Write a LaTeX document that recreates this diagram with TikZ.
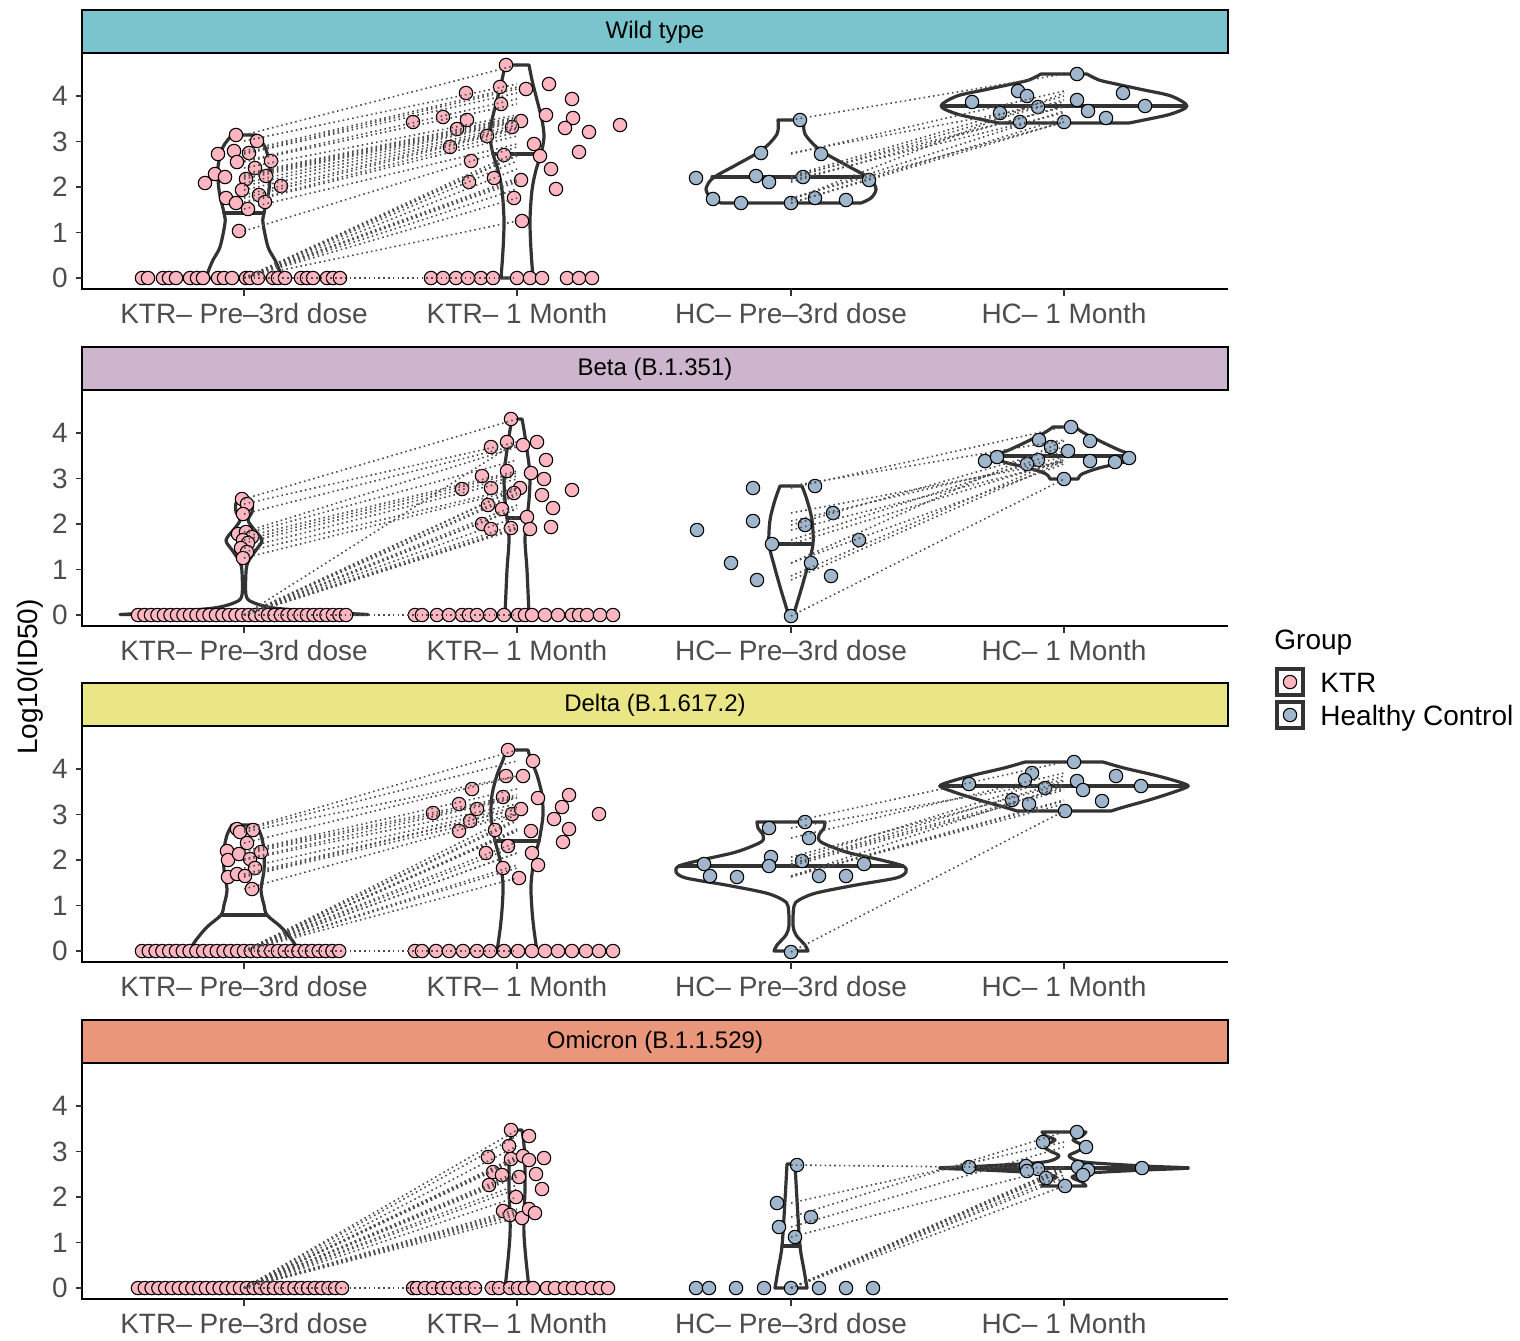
\documentclass[tikz,border=0pt]{standalone}
\usepackage{fontspec}
\setmainfont{Liberation Sans}
\definecolor{wt}{HTML}{7AC5CD}
\definecolor{betac}{HTML}{CDB5CD}
\definecolor{deltac}{HTML}{EAE686}
\definecolor{omic}{HTML}{E9967A}
\definecolor{ktr}{HTML}{FFB6C1}
\definecolor{hcc}{HTML}{9FB6CD}
\definecolor{g20}{HTML}{333333}
\definecolor{g30}{HTML}{4D4D4D}
\newcommand\panelframe[3]{%
 \begin{scope}[shift={(0,#1)}]
  \draw[line width=1.2pt,fill=#2] (82,10) rectangle (1228,53);
  \node[font=\fontsize{12}{14}\selectfont] at (655,32) {#3};
  \draw[line width=1pt] (82,53) -- (82,289) -- (1228,289);
  \foreach \v in {0,...,4} {
   \draw[g20,line width=0.9pt] (76,{278-45.5*\v}) -- (82,{278-45.5*\v});
   \node[ticklab,anchor=east] at (68,{278-45.5*\v}) {\v};
  }
  \foreach \xx/\lab in {244/{KTR– Pre–3rd dose},517/{KTR– 1 Month},791/{HC– Pre–3rd dose},1064/{HC– 1 Month}} {
   \draw[g20,line width=0.9pt] (\xx,289) -- (\xx,296);
   \node[ticklab,anchor=base] at (\xx,323) {\lab};
  }
 \end{scope}}
\newcommand\vio[4]{%
 \draw[vl,shift={(#1,0)}] (0,#2) -- plot[smooth,tension=0.5] coordinates {#4} -- (0,#3);
 \draw[vl,shift={(#1,0)},xscale=-1] (0,#2) -- plot[smooth,tension=0.5] coordinates {#4} -- (0,#3);}
\newcommand\med[3]{\draw[vl] (#1-#3,#2) -- (#1+#3,#2);}
\newcommand\kpts[1]{\foreach \a/\b in {#1} \filldraw[kpt] (\a,\b) circle[radius=3.35pt];}
\newcommand\hpts[1]{\foreach \a/\b in {#1} \filldraw[hpt] (\a,\b) circle[radius=3.35pt];}
\newcommand\kzero[2]{\foreach \a in {#1} \filldraw[kpt] (\a,#2) circle[radius=3.35pt];}
\newcommand\hzero[2]{\foreach \a in {#1} \filldraw[hpt] (\a,#2) circle[radius=3.35pt];}
\newcommand\kl[1]{\foreach \a/\b in {#1} \draw[dl] (244,\a) -- (517,\b);}
\newcommand\hl[1]{\foreach \a/\b in {#1} \draw[dl] (791,\a) -- (1064,\b);}
\begin{document}
\begin{tikzpicture}[x=0.5pt,y=-0.5pt,
 vl/.style={draw=g20,line width=1.6pt,line join=round,line cap=round},
 dl/.style={draw=g30,line width=0.8pt,dash pattern=on 0.8pt off 1.6pt},
 kpt/.style={fill=ktr,draw=black,line width=0.55pt},
 hpt/.style={fill=hcc,draw=black,line width=0.55pt},
 ticklab/.style={font=\fontsize{14}{16}\selectfont,text=g30,inner sep=0pt}]
\useasboundingbox (0,0) rectangle (1520,1340);
\fill[white] (0,0) rectangle (1520,1340);

% ---------------- Panel 1: Wild type
\panelframe{0}{wt}{Wild type}
\vio{244}{135}{278}{(12,135) (21,147) (26,167) (25,190) (20,213) (19,223) (24,247) (31,260) (36,272) (37,278)}
\med{244}{213}{20}
\vio{517}{65}{278}{(12,65) (15,80) (20,100) (25,120) (27,137) (24,154) (19,170) (15,190) (13,220) (14,250) (16,278)}
\med{517}{154}{24}
\vio{791}{120}{203}{(13,120) (14,134) (29,150) (55,165) (78,178) (85,189) (80,198) (70,203)}
\med{791}{177}{79}
\vio{1064}{74}{123}{(23,74) (35,80) (52,84) (80,90) (107,96) (123,106) (107,114) (80,120) (65,123)}
\med{1064}{106}{122}
\kpts{236/135,257/141,218/154,234/151,249/153,237/162,271/161,255/168,215/174,225/177,266/176,246/179,205/183,281/186,242/190,226/198,259/195,236/203,265/202,248/209,239/231}
\kzero{142,148,163,169,176,190,197,203,218,224,232,246,250,258,273,278,285,301,307,313,327,333,340}{278}
\kpts{506/65,500/87,526/89,549/84,466/93,572/99,501/104,413/122,443/117,467/120,457/129,521/121,512/127,546/115,573/118,565/128,589/132,620/125,487/136,450/147,534/144,504/155,540/156,579/152,471/161,551/169,469/182,494/178,521/180,556/189,514/198,522/221}
\kzero{431,443,456,468,481,493,517,530,542,567,579,592}{278}
\hpts{800/120,761/153,821/154,696/178,756/176,769/182,803/177,869/180,713/199,741/203,791/203,815/198,846/200}
\hpts{1077/74,1018/91,1027/96,1123/93,972/102,1077/100,1038/107,1145/106,1000/113,1088/111,1020/122,1064/122,1106/118}
\kl{135/65,141/84,151/87,153/89,154/93,161/99,162/104,168/115,174/117,176/118,177/120,179/121,183/122,186/125,190/127,195/128,198/129,202/132,203/136,209/144,231/147,278/152,278/155,278/156,278/161,278/169,278/178,278/180,278/182,278/189,278/198,278/221,278/278}
\hl{120/74,153/102,154/91,176/96,177/107,178/100,180/113,182/106,199/111,203/118,203/122,198/122,200/93}

% ---------------- Panel 2: Beta
\panelframe{337}{betac}{Beta (B.1.351)}
\vio{244}{497}{615}{(3,497) (8,503) (8,512) (4,520) (9,528) (18,540) (12,550) (4,562) (2,572) (2,595) (8,602) (30,608) (80,612) (124,614.5)}
\vio{517}{419}{615}{(5,419) (7,430) (10,450) (13,475) (12,500) (10,518) (8,540) (10,570) (12,615)}
\med{517}{518}{10}
\vio{791}{486}{616}{(11,486) (16,500) (21,520) (22,544) (17,565) (10,590) (4,610) (3,616)}
\med{791}{544}{21}
\vio{1064}{427}{479}{(11,427) (20,433) (40,443) (55,450) (69,456) (60,462) (35,468) (18,474) (14,479)}
\med{1064}{456}{68}
\kpts{242/499,247/504,243/514,238/534,246/532,252/537,243/540,248/543,241/548,247/552,243/558}
\kzero{138,144.5,...,347}{615}
\kpts{511/419,507/442,523/445,537/442,491/447,546/460,507/471,531/473,544/479,482/476,462/489,491/488,520/488,514/493,572/490,542/495,488/505,553/508,502/509,527/517,482/524,491/529,511/528,530/529,551/527}
\kzero{415,422,437,449,462,469,477,490,504,518,525,532,545,558,572,579,587,600,613}{615}
\hpts{815/486,753/488,753/521,697/530,833/513,805/525,859/540,772/544,811/563,731/563,757/580,831/576,791/616}
\hpts{1071/427,1039/440,1090/441,1051/447,1068/451,985/461,997/457,1038/460,1027/464,1090/461,1115/462,1129/458,1064/479}
\kl{499/419,504/442,514/445,532/447,534/460,537/471,540/473,543/476,548/479,552/488,558/490,615/442,615/488,615/489,615/493,615/495,615/505,615/508,615/509,615/517,615/524,615/527,615/528,615/529,615/615}
\hl{486/440,488/427,513/461,521/457,525/447,530/462,540/451,544/460,563/441,563/464,576/458,580/461,616/479}

% ---------------- Panel 3: Delta
\panelframe{673}{deltac}{Delta (B.1.617.2)}
\vio{244}{825}{951}{(12,825) (17,835) (20,850) (20,870) (17,890) (20,905) (23,915) (37,927) (48,940) (55,951)}
\med{244}{915}{22}
\vio{517}{750}{951}{(11,750) (14,760) (20,775) (25,795) (26,815) (24,830) (22,841) (17,860) (14,885) (15,910) (17,930) (20,951)}
\med{517}{841}{22}
\vio{791}{822}{951}{(34,822) (33,828) (28,835) (30,842) (55,852) (90,860) (112,866) (115,872) (105,878) (65,885) (25,893) (8,900) (3,906) (2,925) (5,935) (14,945) (17,951)}
\med{791}{866}{112}
\vio{1064}{762}{811}{(39,762) (60,768) (90,775) (112,781) (124,786) (110,792) (85,800) (60,807) (47,811)}
\med{1064}{786}{124}
\kpts{237/829,240/832,253/830,247/843,227/851,228/860,239/854,250/859,261/852,255/868,228/877,237/874,245/876,252/889}
\kzero{142,148.8,...,340}{951}
\kpts{508/750,533/761,506/776,523/776,472/789,503/797,538/798,569/795,459/804,477/809,512/814,521/809,562/807,433/813,470/821,554/819,599/814,459/831,495/830,531/831,569/829,563/842,508/846,486/853,532/853,503/868,538/865,519/878}
\kzero{415,422,436,449,463,477,490,504,518,532,545,558,572,586,599,613}{951}
\hpts{805/822,769/828,809/838,771/857,802/861,704/864,769/866,864/864,710/876,737/877,819/876,846/876,791/952}
\hpts{1074/762,1032/773,1025/780,1116/776,969/784,1077/781,1045/788,1083/790,1141/786,1012/800,1029/804,1102/801,1065/811}
\kl{829/750,830/761,832/776,843/776,851/789,852/795,854/797,859/798,860/804,868/807,874/809,876/809,877/813,889/814,951/814,951/819,951/821,951/829,951/830,951/831,951/831,951/842,951/846,951/853,951/853,951/865,951/868,951/878,951/951}
\hl{822/762,828/780,838/773,857/784,861/776,864/788,864/781,866/790,876/786,876/800,876/804,877/801,952/811}

% ---------------- Panel 4: Omicron
\panelframe{1010}{omic}{Omicron (B.1.1.529)}
\vio{517}{1130}{1288}{(5,1130) (7,1145) (8,1165) (8,1190) (7,1215) (7,1235) (9,1260) (12,1288)}
\vio{791}{1164}{1288}{(4,1164) (6,1200) (9,1246) (13,1270) (16,1288)}
\med{791}{1246}{9}
\vio{1064}{1132}{1186}{(22,1132) (18,1136) (9,1140) (20,1146) (14,1151) (5,1156) (20,1162) (80,1166) (124,1168) (80,1170) (25,1173) (8,1177) (18,1182) (22,1186)}
\med{1064}{1168}{124}
\kzero{138,144.8,...,348}{1288}
\kpts{511/1130,529/1136,509/1146,488/1157,511/1159,523/1156,529/1160,544/1158,493/1172,502/1175,519/1177,536/1174,489/1185,542/1189,516/1197,503/1211,510/1215,522/1218,529/1209,535/1213}
\kzero{413,417,425,433,442,449,458,466,475,492,499,510,518,525,533,547,555,565,573,582,592,600,608}{1288}
\hpts{797/1165,777/1203,811/1217,779/1227,795/1237}
\hzero{696,709,736,764,791,819,846,873}{1288}
\hpts{1077/1132,1043/1142,1086/1147,969/1167,1026/1166,1038/1169,1078/1167,1088/1170,1142/1168,1027/1171,1083/1175,1046/1178,1065/1186}
\kl{1288/1130,1288/1136,1288/1146,1288/1157,1288/1159,1288/1156,1288/1160,1288/1158,1288/1172,1288/1175,1288/1177,1288/1174,1288/1185,1288/1189,1288/1197,1288/1211,1288/1215,1288/1218,1288/1209,1288/1213,1288/1288}
\hl{1165/1168,1203/1142,1217/1132,1227/1147,1237/1166,1288/1167,1288/1169,1288/1167,1288/1170,1288/1171,1288/1175,1288/1178,1288/1186}

% ---------------- Axis title and legend
\node[rotate=90,font=\fontsize{14}{16}\selectfont] (ylab) at (30,677) {Log10(ID50)};
\node[anchor=base west,font=\fontsize{14}{16}\selectfont,inner sep=0pt] (legt) at (1274,649) {Group};
\draw[vl,line cap=butt,line join=miter] (1277,669) rectangle (1303,695);
\draw[vl,line cap=butt,line join=miter] (1277,702) rectangle (1303,728);
\filldraw[kpt] (1290,682) circle[radius=3.35pt];
\filldraw[hpt] (1290,715) circle[radius=3.35pt];
\node[anchor=base west,font=\fontsize{14}{16}\selectfont,inner sep=0pt] (leg1) at (1320,692) {KTR};
\node[anchor=base west,font=\fontsize{14}{16}\selectfont,inner sep=0pt] (leg2) at (1320,725) {Healthy Control};
\end{tikzpicture}
\end{document}
